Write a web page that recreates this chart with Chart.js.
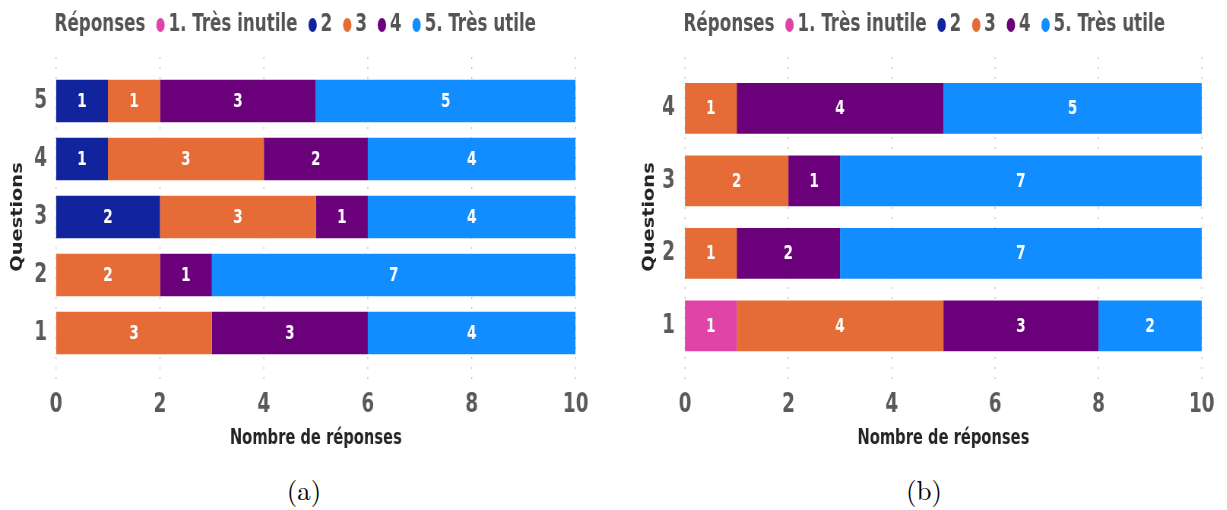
<!DOCTYPE html>
<html>
<head>
<meta charset="utf-8">
<title>Réponses par question</title>
<script src="https://cdn.jsdelivr.net/npm/chart.js@4.4.1/dist/chart.umd.min.js"></script>
<style>
  html, body { margin: 0; padding: 0; background: #fff; }
  body { position: relative; width: 1227px; height: 510px; overflow: hidden; }
  .panel { position: absolute; top: 0; }
  .panel canvas { display: block; transform-origin: 0 0; }
  .caption {
    position: absolute; top: 473px; width: 80px; margin-left: -40px;
    text-align: center; color: #000; line-height: 1.2;
    font-family: "Latin Modern Roman", "Liberation Serif", "DejaVu Serif", serif;
    font-size: 27px;
  }
</style>
</head>
<body>
<div class="panel" style="left:0"><canvas id="chartA"></canvas></div>
<div class="panel" style="left:615px"><canvas id="chartB"></canvas></div>
<div class="caption" style="left:304px">(a)</div>
<div class="caption" style="left:924px">(b)</div>
<script>
const levels = ['1. Très inutile', '2', '3', '4', '5. Très utile'];
const levelColors = ['#E044A7', '#12239E', '#E66C37', '#6B007B', '#118DFF'];
const xTickValues = [0, 2, 4, 6, 8, 10];

// (a) questions 5 -> 1, top to bottom
const questionsA = ['5', '4', '3', '2', '1'];
const a1 = [0, 0, 0, 0, 0];
const a2 = [1, 1, 2, 0, 0];
const a3 = [1, 3, 3, 2, 3];
const a4 = [3, 2, 1, 1, 3];
const a5 = [5, 4, 4, 7, 4];

// (b) questions 4 -> 1
const questionsB = ['4', '3', '2', '1'];
const b1 = [0, 0, 0, 1];
const b2 = [0, 0, 0, 0];
const b3 = [1, 2, 1, 4];
const b4 = [4, 1, 2, 3];
const b5 = [5, 7, 7, 2];

// panels are drawn wide and squeezed horizontally with CSS,
// which gives the tall, narrow lettering and oval legend dots
const squeeze = 0.76;
const px = v => v / squeeze;
const panelHeight = 460;

const font = '"DejaVu Sans Condensed", "DejaVu Sans", sans-serif';
const tickGrey = '#5b5a58';
const titleGrey = '#252423';

// dotted vertical guides, a bit taller than the plot area
const dottedGrid = {
  id: 'dottedGrid',
  beforeDatasetsDraw(chart) {
    const { ctx, scales: { x } } = chart;
    ctx.save();
    ctx.strokeStyle = '#c8c8c8';
    ctx.lineWidth = 1.4;
    ctx.setLineDash([2, 8]);
    x.ticks.forEach(t => {
      const p = x.getPixelForValue(t.value);
      ctx.beginPath();
      ctx.moveTo(p, 57);
      ctx.lineTo(p, 386);
      ctx.stroke();
    });
    ctx.restore();
  }
};

// count written in the middle of each segment
const segmentLabels = {
  id: 'segmentLabels',
  afterDatasetsDraw(chart) {
    const { ctx } = chart;
    ctx.save();
    ctx.fillStyle = '#fff';
    ctx.font = 'bold 20px ' + font;
    ctx.textAlign = 'center';
    ctx.textBaseline = 'middle';
    chart.data.datasets.forEach((ds, i) => {
      chart.getDatasetMeta(i).data.forEach((bar, j) => {
        const v = ds.data[j];
        if (!v) return;
        ctx.fillText(String(v), (bar.x + bar.base) / 2, bar.y + 1);
      });
    });
    ctx.restore();
  }
};

// "Réponses ● 1. Très inutile ● 2 ..." on one line
const inlineLegend = {
  id: 'inlineLegend',
  afterDraw(chart) {
    const { ctx, chartArea } = chart;
    const y = 25;
    let x = chartArea.left - 2;
    ctx.save();
    ctx.font = 'bold 24.5px ' + font;
    ctx.textBaseline = 'middle';
    ctx.fillStyle = '#555453';
    ctx.fillText('Réponses', x, y);
    x += ctx.measureText('Réponses').width;
    chart.data.datasets.forEach(ds => {
      x += px(15);
      ctx.fillStyle = ds.backgroundColor;
      ctx.beginPath();
      ctx.ellipse(x, y, 5.5, 7, 0, 0, Math.PI * 2);
      ctx.fill();
      x += px(8);
      ctx.fillStyle = '#555453';
      ctx.fillText(ds.label, x, y);
      x += ctx.measureText(ds.label).width;
    });
    ctx.restore();
  }
};

function buildChart(id, displayWidth, questions, series, opts) {
  const canvas = document.getElementById(id);
  canvas.width = Math.round(px(displayWidth));
  canvas.height = panelHeight;
  canvas.style.transform = 'scaleX(' + squeeze + ')';

  return new Chart(canvas, {
    type: 'bar',
    data: {
      labels: questions,
      datasets: series.map((values, i) => ({
        label: levels[i],
        data: values,
        backgroundColor: levelColors[i],
        barPercentage: opts.barPercentage,
        categoryPercentage: 1
      }))
    },
    options: {
      indexAxis: 'y',
      responsive: false,
      animation: false,
      layout: { padding: { top: 72, left: px(opts.padLeft), right: px(opts.padRight), bottom: 0 } },
      plugins: { legend: { display: false }, tooltip: { enabled: false } },
      scales: {
        x: {
          stacked: true,
          min: 0,
          max: 10,
          afterBuildTicks: s => { s.ticks = xTickValues.map(v => ({ value: v })); },
          afterFit: s => {
            s.height = panelHeight - 362;
            s.paddingLeft = 0;
            s.paddingRight = 0;
          },
          grid: { display: false, drawTicks: false },
          border: { display: false },
          ticks: {
            padding: 27,
            maxRotation: 0,
            color: tickGrey,
            font: { family: font, size: 27, weight: 'bold' }
          },
          title: {
            display: true,
            text: 'Nombre de réponses',
            color: titleGrey,
            padding: { top: 0, bottom: 9 },
            font: { family: font, size: 21.5, weight: 'bold' }
          }
        },
        y: {
          stacked: true,
          afterFit: s => { s.width = px(opts.yWidth); },
          grid: { display: false, drawTicks: false },
          border: { display: false },
          ticks: {
            padding: px(opts.yTickPad),
            color: tickGrey,
            font: { family: font, size: 27, weight: 'bold' }
          },
          title: {
            display: true,
            text: 'Questions',
            color: titleGrey,
            padding: { top: px(opts.yTitleX) - 12.9, bottom: 0 },
            font: { family: font, size: 21.5, weight: 'bold' }
          }
        }
      }
    },
    plugins: [dottedGrid, segmentLabels, inlineLegend]
  });
}

buildChart('chartA', 600, questionsA, [a1, a2, a3, a4, a5],
  { barPercentage: 0.73, padLeft: 0, padRight: 24, yWidth: 56, yTickPad: 9, yTitleX: 17.5 });
buildChart('chartB', 612, questionsB, [b1, b2, b3, b4, b5],
  { barPercentage: 0.7, padLeft: 17, padRight: 25, yWidth: 53, yTickPad: 10, yTitleX: 17.5 });
</script>
</body>
</html>
